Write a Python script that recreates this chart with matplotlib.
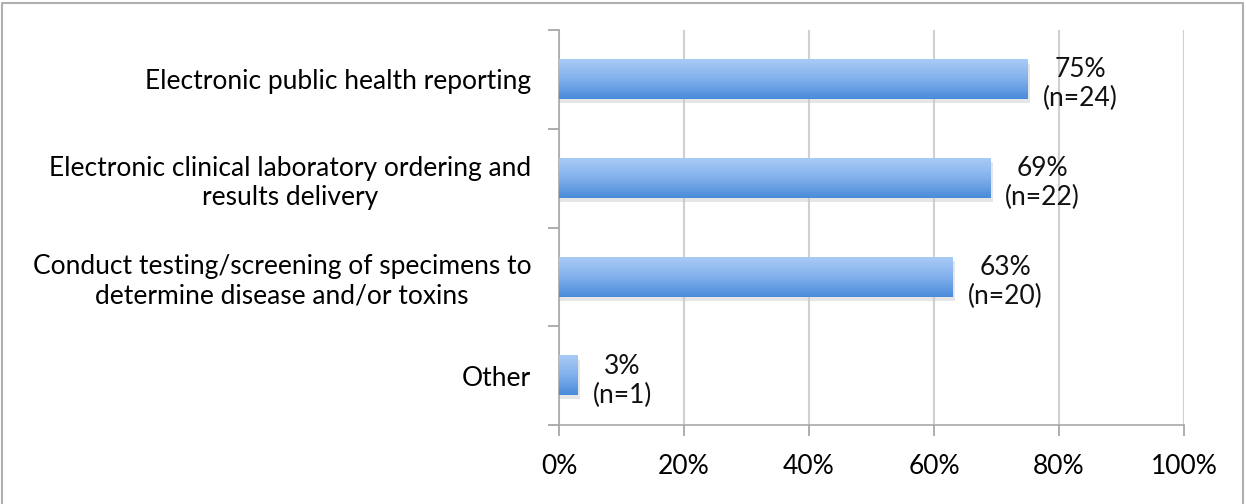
import numpy as np
import matplotlib.pyplot as plt
from matplotlib.colors import LinearSegmentedColormap
from matplotlib.patches import Rectangle
from matplotlib.ticker import FixedLocator

categories = ['Electronic public health reporting',
              'Electronic clinical laboratory ordering and\nresults delivery',
              'Conduct testing/screening of specimens to\ndetermine disease and/or toxins',
              'Other']
pct = [75, 69, 63, 3]
counts = [24, 22, 20, 1]
xticks = [0, 20, 40, 60, 80, 100]

plt.rcParams['font.family'] = ['Lato', 'DejaVu Sans']

fig = plt.figure(figsize=(12.46, 5.04), dpi=100)
ax = fig.add_axes([559/1246, 1-425/504, 625/1246, 395/504])

y = np.arange(len(categories))
bars = ax.barh(y, pct, height=0.4, color='none', zorder=3)

grad = LinearSegmentedColormap.from_list('g', ['#a8cbf6', '#82b0ec', '#4a8bd9'])
img = np.linspace(0, 1, 64).reshape(-1, 1)
for b in bars:
    x0, y0, w, h = b.get_x(), b.get_y(), b.get_width(), b.get_height()
    # soft shadow
    ax.add_patch(Rectangle((x0, y0 + 0.04), w + 0.4, h, color='#c8c8c8', alpha=0.45, zorder=2, lw=0))
    ax.imshow(img, cmap=grad, aspect='auto', extent=(x0, x0 + w, y0 + h, y0), zorder=3,
              interpolation='bicubic')
ax.set_xlim(0, 100)
ax.set_ylim(len(categories)-0.5, -0.5)

for i, (p, n) in enumerate(zip(pct, counts)):
    ax.annotate(f'{p}%\n(n={n})', xy=(p, i), xytext=(15, -5), textcoords='offset pixels',
                ha='left', va='center', multialignment='center', fontsize=19, color='#111111',
                linespacing=1.2)

ax.set_yticks(y)
ax.set_yticklabels(categories, multialignment='center')
ax.yaxis.set_minor_locator(FixedLocator(np.arange(-0.5, len(categories), 1)))
ax.tick_params(axis='y', which='major', length=0, pad=20, labelsize=19)
ax.tick_params(axis='y', which='minor', length=8, color='#a0a0a0', width=1.2)
ax.set_xticks(xticks)
ax.set_xticklabels([f'{t}%' for t in xticks])
ax.tick_params(axis='x', length=8, color='#a0a0a0', width=1.2, pad=13, labelsize=19)

ax.grid(axis='x', color='#d0d0d0', lw=1.5, zorder=0)
ax.set_axisbelow(True)
for s in ['top', 'right']:
    ax.spines[s].set_visible(False)
for s in ['left', 'bottom']:
    ax.spines[s].set_color('#a8a8a8')
    ax.spines[s].set_linewidth(1.2)

# outer frame
fig.add_artist(plt.Line2D([2/1246, 2/1246, 1243/1246, 1243/1246],
                          [0, 1-3/504, 1-3/504, 0], color='#b0b0b0', lw=1.5))

fig.savefig('out.png', dpi=100)
